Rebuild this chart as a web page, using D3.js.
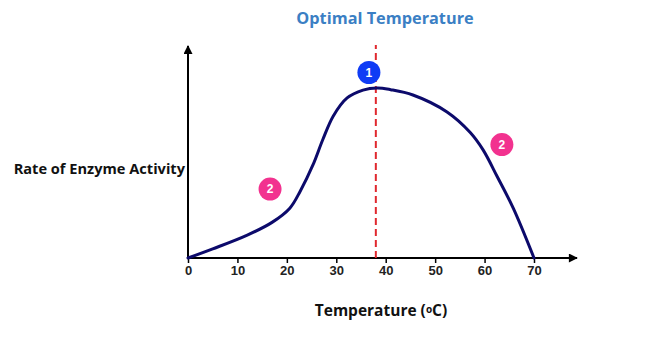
<!DOCTYPE html>
<meta charset="utf-8">
<script src="https://d3js.org/d3.v7.min.js"></script>
<style>
  body { margin: 0; background: #fff; }
</style>
<svg id="chart" width="653" height="351"></svg>
<script>
// temperature (°C) and rate of enzyme activity (arbitrary, 0-100)
const temps = [0, 5, 12, 17, 20.6, 22.7, 25.3, 27.3, 29.4, 32.2, 35.4, 38.3, 41, 45.5, 52.4, 57.1, 59.7, 62.6, 65.8, 70];
const rates = [0, 4.3, 10.8, 16.8, 23.5, 31.5, 44, 56, 67, 75.5, 79.2, 80.2, 79.4, 76.9, 68.9, 59.2, 51, 38.2, 23.5, 0];
const xTicks = [0, 10, 20, 30, 40, 50, 60, 70];
const optimum = 38;
// numbered markers: [temperature, rate, label, colour]
const markers = [
  [36.6, 87.5, "1", "#0f3cf5"],
  [16.6, 32.5, "2", "#f2328f"],
  [63.5, 53.5, "2", "#f2328f"]
];

const svg = d3.select("#chart");

const x = d3.scaleLinear().domain([0, 70]).range([188, 534]);
const y = d3.scaleLinear().domain([0, 100]).range([258, 46]);

// arrow heads
const defs = svg.append("defs");
defs.append("marker")
  .attr("id", "arrow")
  .attr("viewBox", "0 0 10 10")
  .attr("refX", 9).attr("refY", 5)
  .attr("markerWidth", 12).attr("markerHeight", 9)
  .attr("markerUnits", "userSpaceOnUse")
  .attr("orient", "auto")
  .append("path")
  .attr("d", "M0,0 L10,5 L0,10 z")
  .attr("fill", "#000");

// x axis ticks + labels
const xAxis = svg.append("g")
  .attr("transform", `translate(0,${y(0)})`)
  .call(d3.axisBottom(x).tickValues(xTicks).tickSize(5).tickPadding(3));
xAxis.select(".domain").remove();
xAxis.selectAll(".tick line").attr("stroke", "#000").attr("stroke-width", 1.5);
xAxis.selectAll(".tick text")
  .attr("font-family", "Liberation Sans, Arial, sans-serif")
  .attr("font-weight", "bold")
  .attr("font-size", 13)
  .attr("fill", "#222");

// axis lines with arrows
svg.append("line")
  .attr("x1", x(0)).attr("y1", y(0))
  .attr("x2", 577).attr("y2", y(0))
  .attr("stroke", "#000").attr("stroke-width", 2)
  .attr("marker-end", "url(#arrow)");
svg.append("line")
  .attr("x1", x(0)).attr("y1", y(0) + 1)
  .attr("x2", x(0)).attr("y2", 46)
  .attr("stroke", "#000").attr("stroke-width", 2)
  .attr("marker-end", "url(#arrow)");

// optimum line
svg.append("line")
  .attr("x1", x(optimum)).attr("x2", x(optimum))
  .attr("y1", y(0)).attr("y2", 45)
  .attr("stroke", "#e0282e")
  .attr("stroke-width", 2)
  .attr("stroke-dasharray", "7,4");

// curve
const pts = temps.map((t, i) => [t, rates[i]]);
svg.append("path")
  .datum(pts)
  .attr("fill", "none")
  .attr("stroke", "#0c0a6b")
  .attr("stroke-width", 3)
  .attr("stroke-linecap", "round")
  .attr("d", d3.line().x(d => x(d[0])).y(d => y(d[1])).curve(d3.curveCatmullRom.alpha(0.5)));

// numbered markers
const m = svg.selectAll(".marker").data(markers).join("g")
  .attr("class", "marker")
  .attr("transform", d => `translate(${x(d[0])},${y(d[1])})`);
m.append("circle").attr("r", 11.5).attr("fill", d => d[3]);
m.append("text")
  .attr("text-anchor", "middle")
  .attr("dy", "0.36em")
  .attr("font-family", "Liberation Sans, Arial, sans-serif")
  .attr("font-weight", "bold")
  .attr("font-size", 12)
  .attr("fill", "#fff")
  .text(d => d[2]);

// titles
svg.append("text")
  .attr("x", 385).attr("y", 24)
  .attr("text-anchor", "middle")
  .attr("font-family", "Open Sans, sans-serif")
  .attr("font-weight", "bold")
  .attr("font-size", 16.3)
  .attr("fill", "#3b7fc4")
  .text("Optimal Temperature");

svg.append("text")
  .attr("x", 185).attr("y", 174)
  .attr("text-anchor", "end")
  .attr("font-family", "Open Sans, sans-serif")
  .attr("font-weight", "bold")
  .attr("font-size", 14.6)
  .attr("fill", "#111")
  .text("Rate of Enzyme Activity");

const xl = svg.append("text")
  .attr("x", 381).attr("y", 316)
  .attr("text-anchor", "middle")
  .attr("font-family", "Open Sans, sans-serif")
  .attr("font-weight", "bold")
  .attr("font-size", 15.5)
  .attr("fill", "#111");
xl.append("tspan").text("Temperature (");
xl.append("tspan").attr("font-size", 10).attr("dy", -3).text("o");
xl.append("tspan").attr("dy", 3).text("C)");
</script>
